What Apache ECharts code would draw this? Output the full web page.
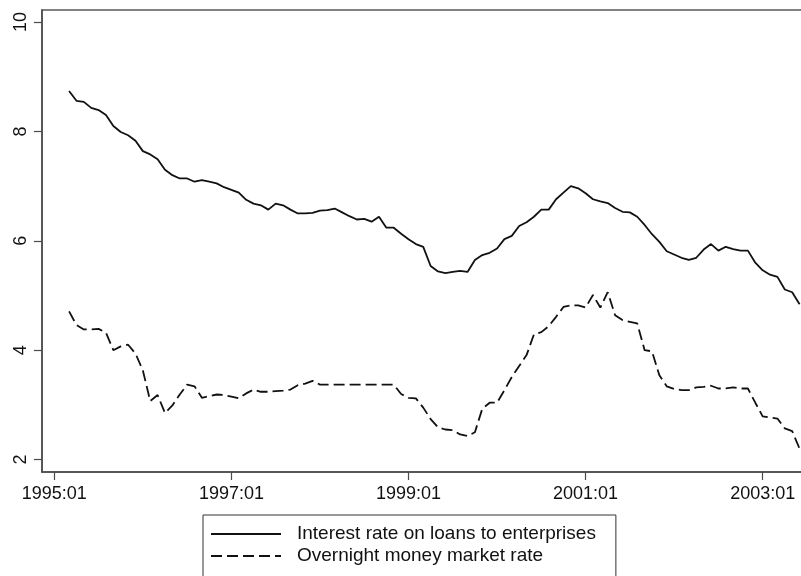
<!DOCTYPE html>
<html>
<head>
<meta charset="utf-8">
<script src="https://cdn.jsdelivr.net/npm/echarts@6/dist/echarts.min.js"></script>
<style>
  html, body { margin: 0; padding: 0; background: #fff; }
  #chart { width: 801px; height: 576px; }
</style>
</head>
<body>
<div id="chart"></div>
<script>
// Monthly series, first observation 1995:03
const firstMonth = '1995:03';

const loanRate = [
  8.74, 8.56, 8.54, 8.43, 8.39, 8.30, 8.10, 7.99, 7.93, 7.83,
  7.64, 7.58, 7.49, 7.30, 7.20, 7.14, 7.14, 7.08, 7.11, 7.08,
  7.05, 6.98, 6.93, 6.88, 6.75, 6.68, 6.65, 6.57, 6.68, 6.65,
  6.57, 6.50, 6.50, 6.51, 6.55, 6.56, 6.59, 6.52, 6.45, 6.39,
  6.40, 6.35, 6.44, 6.24, 6.24, 6.13, 6.03, 5.94, 5.89, 5.54,
  5.44, 5.41, 5.43, 5.45, 5.43, 5.65, 5.74, 5.78, 5.86, 6.03,
  6.09, 6.27, 6.34, 6.44, 6.57, 6.57, 6.76, 6.88, 7.00, 6.96,
  6.87, 6.76, 6.72, 6.69, 6.60, 6.53, 6.52, 6.44, 6.29, 6.12,
  5.98, 5.81, 5.75, 5.69, 5.65, 5.69, 5.84, 5.94, 5.82, 5.89,
  5.85, 5.82, 5.82, 5.60, 5.46, 5.38, 5.34, 5.11, 5.06, 4.84
];

const overnightRate = [
  4.71, 4.46, 4.38, 4.38, 4.39, 4.32, 4.00, 4.07, 4.10, 3.94,
  3.63, 3.07, 3.18, 2.85, 2.99, 3.19, 3.37, 3.34, 3.13, 3.16,
  3.19, 3.18, 3.15, 3.12, 3.21, 3.28, 3.24, 3.24, 3.25, 3.26,
  3.28, 3.36, 3.39, 3.44, 3.37, 3.37, 3.37, 3.37, 3.37, 3.37,
  3.37, 3.37, 3.37, 3.37, 3.37, 3.20, 3.13, 3.12, 2.95, 2.74,
  2.59, 2.55, 2.54, 2.46, 2.43, 2.50, 2.93, 3.04, 3.04, 3.27,
  3.51, 3.71, 3.91, 4.29, 4.33, 4.44, 4.61, 4.79, 4.82, 4.82,
  4.78, 5.01, 4.78, 5.06, 4.64, 4.55, 4.52, 4.49, 4.00, 3.98,
  3.54, 3.34, 3.29, 3.27, 3.27, 3.32, 3.33, 3.35, 3.30, 3.30,
  3.32, 3.30, 3.30, 3.04, 2.79, 2.77, 2.75, 2.57, 2.52, 2.20
];

const seriesNames = ['Interest rate on loans to enterprises', 'Overnight money market rate'];
const xTickLabels = ['1995:01', '1997:01', '1999:01', '2001:01', '2003:01'];
const yTickLabels = [2, 4, 6, 8, 10];

// Months are placed on a numeric axis counted from 1995:01
const baseYear = 1995;
function monthIndex(label) {
  const [y, m] = label.split(':').map(Number);
  return (y - baseYear) * 12 + (m - 1);
}
function monthLabel(idx) {
  const y = baseYear + Math.floor(idx / 12);
  const m = idx % 12 + 1;
  return y + ':' + (m < 10 ? '0' + m : m);
}
const start = monthIndex(firstMonth);
const pairs = arr => arr.map((v, i) => [start + i, v]);
const xTicks = xTickLabels.map(monthIndex);

const font = "'Liberation Sans', Arial, sans-serif";
const ink = '#111';
const axisGrey = '#4a4a4a';

const chart = echarts.init(document.getElementById('chart'), null, { renderer: 'canvas' });
chart.setOption({
  animation: false,
  backgroundColor: '#fff',
  textStyle: { fontFamily: font, color: ink },
  grid: {
    left: 42, top: 10, right: -10, bottom: 104,
    containLabel: false,
    outerBoundsMode: 'none',
    show: true, borderColor: '#5a5a5a', borderWidth: 1.5, backgroundColor: 'transparent'
  },
  xAxis: {
    type: 'value',
    min: -1.67,
    max: 102.55,
    splitLine: { show: false },
    axisLine: { show: true, onZero: false, lineStyle: { color: axisGrey, width: 1.5 } },
    axisTick: { show: true, length: 8, customValues: xTicks, lineStyle: { color: axisGrey, width: 1.2 } },
    axisLabel: {
      customValues: xTicks,
      formatter: v => monthLabel(Math.round(v)),
      fontSize: 18, color: ink, margin: 13, fontFamily: font
    }
  },
  yAxis: {
    type: 'value',
    min: 1.773,
    max: 10.22,
    splitLine: { show: false },
    axisLine: { show: true, onZero: false, lineStyle: { color: axisGrey, width: 1.5 } },
    axisTick: { show: true, length: 8, customValues: yTickLabels, lineStyle: { color: axisGrey, width: 1.2 } },
    axisLabel: {
      customValues: yTickLabels,
      rotate: 90,
      fontSize: 18, color: ink, margin: 12, fontFamily: font
    }
  },
  legend: {
    orient: 'vertical',
    left: 203,
    top: 515,
    height: 120,
    itemWidth: 70,
    itemHeight: 12,
    itemGap: 2,
    padding: [9, 20, 14, 7],
    borderColor: '#333',
    borderWidth: 1,
    selectedMode: false,
    itemStyle: { opacity: 0 },
    textStyle: { fontSize: 19, lineHeight: 20, color: ink, fontFamily: font, padding: [0, 0, 0, 11] },
    data: seriesNames
  },
  series: [
    {
      name: seriesNames[0],
      type: 'line',
      data: pairs(loanRate),
      symbol: 'none',
      lineStyle: { color: ink, width: 1.8, type: 'solid' },
      itemStyle: { color: ink }
    },
    {
      name: seriesNames[1],
      type: 'line',
      data: pairs(overnightRate),
      symbol: 'none',
      lineStyle: { color: ink, width: 1.8, type: [11, 5] },
      itemStyle: { color: ink }
    }
  ]
});
</script>
</body>
</html>
